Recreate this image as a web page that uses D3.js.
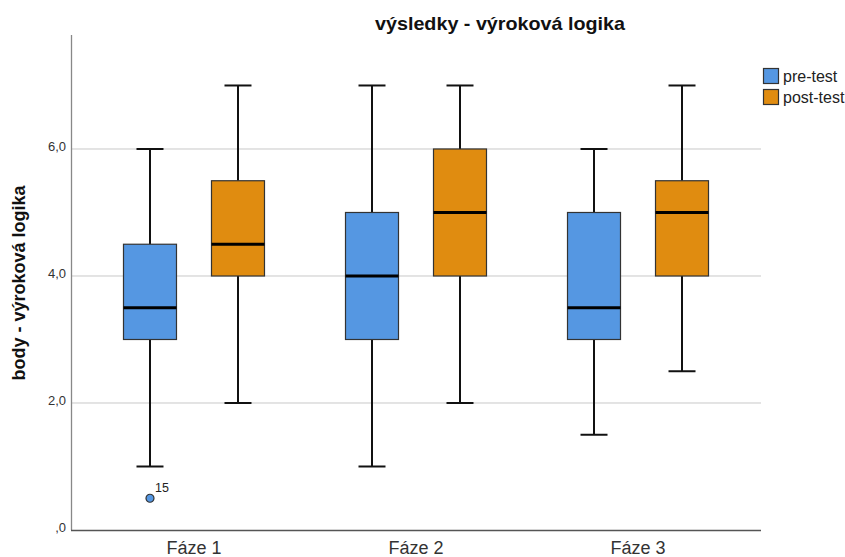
<!DOCTYPE html>
<html>
<head>
<meta charset="utf-8">
<script src="https://cdn.jsdelivr.net/npm/d3@7/dist/d3.min.js"></script>
<style>
  html, body { margin: 0; padding: 0; background: #fff; }
  svg { display: block; font-family: "Liberation Sans", Arial, sans-serif; }
</style>
</head>
<body>
<svg id="chart" width="845" height="557"></svg>
<script>
// Phases on the x axis and the two test series
const phases = ["Fáze 1", "Fáze 2", "Fáze 3"];
const series = ["pre-test", "post-test"];
const seriesColors = ["#5597e2", "#e08c10"];

// Five-number summaries per phase: [min, q1, median, q3, max]
const preTest = [
  [1, 3, 3.5, 4.5, 6],
  [1, 3, 4, 5, 7],
  [1.5, 3, 3.5, 5, 6]
];
const postTest = [
  [2, 4, 4.5, 5.5, 7],
  [2, 4, 5, 6, 7],
  [2.5, 4, 5, 5.5, 7]
];

// Outliers: phase, series, value, case label
const outliers = [
  { phase: "Fáze 1", series: "pre-test", value: 0.5, label: "15" }
];

const yTicks = [0, 2, 4, 6];
const yTickLabels = [",0", "2,0", "4,0", "6,0"];

const svg = d3.select("#chart");
const plotLeft = 71, plotRight = 761, plotTop = 35, plotBottom = 530;

const x = d3.scaleBand().domain(phases).range([plotLeft, plotRight]).paddingOuter(0.054).paddingInner(0);
const xSub = d3.scaleBand().domain(series).range([-88, 88]);
const y = d3.scaleLinear().domain([0, 7.795]).range([plotBottom, plotTop]);

const boxW = 53, capW = 27;
const cx = d => x(d.phase) + x.bandwidth() / 2 + xSub(d.series) + xSub.bandwidth() / 2;

// Gridlines
svg.append("g").selectAll("line").data(yTicks.filter(d => d > 0)).join("line")
  .attr("x1", plotLeft).attr("x2", plotRight)
  .attr("y1", d => y(d)).attr("y2", d => y(d))
  .attr("stroke", "#c8c8c8").attr("stroke-width", 1);

// Axes
const yAxis = d3.axisLeft(y).tickValues(yTicks).tickFormat((d, i) => yTickLabels[i]).tickSize(0).tickPadding(5);
const gy = svg.append("g").attr("transform", `translate(${plotLeft},0)`).call(yAxis);
gy.select(".domain").attr("stroke", "#888").attr("stroke-width", 1.3).attr("d", `M0.5,${plotTop}V${plotBottom}`);
gy.selectAll("text").attr("font-size", 13).attr("fill", "#333").attr("dy", "0.1em");

const xAxis = d3.axisBottom(x).tickSize(0).tickPadding(11);
const gx = svg.append("g").attr("transform", `translate(0,${plotBottom})`).call(xAxis);
gx.select(".domain").attr("stroke", "#555").attr("stroke-width", 1.3).attr("d", `M${plotLeft},0.5H${plotRight}`);
gx.selectAll("text").attr("font-size", 18).attr("fill", "#333");

// Boxes
const boxData = [];
phases.forEach((p, i) => {
  boxData.push({ phase: p, series: "pre-test", s: preTest[i] });
  boxData.push({ phase: p, series: "post-test", s: postTest[i] });
});

const color = d3.scaleOrdinal().domain(series).range(seriesColors);

const boxes = svg.append("g").selectAll("g").data(boxData).join("g")
  .attr("transform", d => `translate(${cx(d)},0)`);

// whiskers
boxes.append("line").attr("x1", 0).attr("x2", 0)
  .attr("y1", d => y(d.s[3])).attr("y2", d => y(d.s[4]))
  .attr("stroke", "#111").attr("stroke-width", 2);
boxes.append("line").attr("x1", 0).attr("x2", 0)
  .attr("y1", d => y(d.s[0])).attr("y2", d => y(d.s[1]))
  .attr("stroke", "#111").attr("stroke-width", 2);
boxes.append("line").attr("x1", -capW / 2).attr("x2", capW / 2)
  .attr("y1", d => y(d.s[4])).attr("y2", d => y(d.s[4]))
  .attr("stroke", "#111").attr("stroke-width", 2);
boxes.append("line").attr("x1", -capW / 2).attr("x2", capW / 2)
  .attr("y1", d => y(d.s[0])).attr("y2", d => y(d.s[0]))
  .attr("stroke", "#111").attr("stroke-width", 2);
// box
boxes.append("rect").attr("x", -boxW / 2).attr("width", boxW)
  .attr("y", d => y(d.s[3])).attr("height", d => y(d.s[1]) - y(d.s[3]))
  .attr("fill", d => color(d.series)).attr("stroke", "#333").attr("stroke-width", 1.2);
// median
boxes.append("line").attr("x1", -boxW / 2).attr("x2", boxW / 2)
  .attr("y1", d => y(d.s[2])).attr("y2", d => y(d.s[2]))
  .attr("stroke", "#000").attr("stroke-width", 3);

// Outliers
const og = svg.append("g").selectAll("g").data(outliers).join("g")
  .attr("transform", d => `translate(${cx(d)},${y(d.value)})`);
og.append("circle").attr("r", 4).attr("fill", d => color(d.series)).attr("stroke", "#333").attr("stroke-width", 1.2);
og.append("text").attr("x", 5).attr("y", -6).attr("font-size", 12.5).attr("fill", "#222").text(d => d.label);

// Title
svg.append("text").attr("x", 500).attr("y", 30).attr("text-anchor", "middle")
  .attr("font-size", 19).attr("font-weight", "bold").attr("fill", "#111")
  .attr("textLength", 250).attr("lengthAdjust", "spacingAndGlyphs")
  .text("výsledky - výroková logika");

// Y axis title
svg.append("text").attr("transform", "translate(25,283) rotate(-90)").attr("text-anchor", "middle")
  .attr("font-size", 18).attr("font-weight", "bold").attr("fill", "#111")
  .text("body - výroková logika");

// Legend
const lg = svg.append("g").attr("transform", "translate(763,68)").selectAll("g").data(series).join("g")
  .attr("transform", (d, i) => `translate(0,${i * 21})`);
lg.append("rect").attr("x", 0.5).attr("y", 0.5).attr("width", 15).attr("height", 15)
  .attr("fill", d => color(d)).attr("stroke", "#333").attr("stroke-width", 1.2);
lg.append("text").attr("x", 20).attr("y", 14).attr("font-size", 16).attr("fill", "#222").text(d => d);
</script>
</body>
</html>
